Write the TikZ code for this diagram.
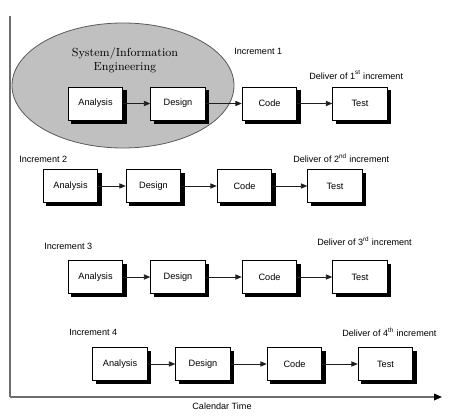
\documentclass[tikz,border=0pt]{standalone}
\usepackage{fontspec}
\setsansfont{Liberation Sans}
\usetikzlibrary{shapes.misc,arrows.meta,backgrounds}

\tikzset{
	stagebox/.style={draw=black,fill=white,line width=0.6pt,minimum width=41pt,minimum height=24.75pt,inner sep=0pt,font=\sffamily\fontsize{6.9}{8}\selectfont},
	flow/.style={-{Triangle[length=4.8pt,width=3.9pt]},line width=0.6pt,color={rgb, 255:red, 30; green, 30; blue, 30 }},
	lbl/.style={anchor=west,inner sep=0.75pt,font=\sffamily\fontsize{6.8}{8}\selectfont}
}

\begin{document}
\begin{tikzpicture}[x=0.75pt,y=0.75pt,yscale=-1,xscale=1]
	\useasboundingbox (0,0) rectangle (449,420);
	
	% Text Node
	\node (sie) [align=center,inner sep=0.75pt,font=\fontsize{8.8}{10.5}\selectfont] at (125,60) {System/Information\\Engineering};
	
	%Straight Lines [id:timeaxis]
	\coordinate (top) at (10,16);
	\coordinate (orig) at (10,397);
	\coordinate (tend) at (442,397);
	\draw [color={rgb, 255:red, 110; green, 110; blue, 110 }, line width=1.2] (top) -- (orig);
	\draw [color={rgb, 255:red, 110; green, 110; blue, 110 }, line width=1.2, -{Triangle[length=6pt,width=5pt,fill=black,color=black]}] (orig) -- (tend);
	% Text Node
	\node (caltime) [inner sep=0.75pt,font=\sffamily\fontsize{6.8}{8}\selectfont] at (222,406) {Calendar Time};
	
	% Increment 1
	\node (an1) [stagebox] at (95.5,103.5) {Analysis};
	\node (de1) [stagebox] at (178,103.5) {Design};
	\node (co1) [stagebox] at (269.5,103.5) {Code};
	\node (te1) [stagebox] at (360,103.5) {Test};
	\draw [flow] (an1) -- (de1);
	\draw [flow] (de1) -- (co1);
	\draw [flow] (co1) -- (te1);
	% Text Node
	\node (inc1) [lbl] at (233,51) {Increment 1};
	% Text Node
	\node (del1) [lbl] at (308,75) {Deliver of 1\textsuperscript{st} increment};
	
	% Increment 2
	\node (an2) [stagebox] at (70.5,186) {Analysis};
	\node (de2) [stagebox] at (153.5,186) {Design};
	\node (co2) [stagebox] at (244.5,186) {Code};
	\node (te2) [stagebox] at (335,186) {Test};
	\draw [flow] (an2) -- (de2);
	\draw [flow] (de2) -- (co2);
	\draw [flow] (co2) -- (te2);
	% Text Node
	\node (inc2) [lbl] at (18,159) {Increment 2};
	% Text Node
	\node (del2) [lbl] at (292,158) {Deliver of 2\textsuperscript{nd} increment};
	
	% Increment 3
	\node (an3) [stagebox] at (95.5,277) {Analysis};
	\node (de3) [stagebox] at (178,277) {Design};
	\node (co3) [stagebox] at (269.5,277) {Code};
	\node (te3) [stagebox] at (360,277) {Test};
	\draw [flow] (an3) -- (de3);
	\draw [flow] (de3) -- (co3);
	\draw [flow] (co3) -- (te3);
	% Text Node
	\node (inc3) [lbl] at (43,246) {Increment 3};
	% Text Node
	\node (del3) [lbl] at (316,241) {Deliver of 3\textsuperscript{rd} increment};
	
	% Increment 4
	\node (an4) [stagebox] at (120,364) {Analysis};
	\node (de4) [stagebox] at (203,364) {Design};
	\node (co4) [stagebox] at (294.5,364) {Code};
	\node (te4) [stagebox] at (385.5,364) {Test};
	\draw [flow] (an4) -- (de4);
	\draw [flow] (de4) -- (co4);
	\draw [flow] (co4) -- (te4);
	% Text Node
	\node (inc4) [lbl] at (68,332) {Increment 4};
	% Text Node
	\node (del4) [lbl] at (341,332) {Deliver of 4\textsuperscript{th} increment};
	
	% ellipse and box shadows behind everything
	\begin{scope}[on background layer]
		%Shape: Ellipse [id:systeminfo]
		\draw [color={rgb, 255:red, 90; green, 90; blue, 90 }, fill={rgb, 255:red, 192; green, 192; blue, 192 }, line width=0.6] (123,85.5) ellipse [x radius=111, y radius=62.5];
		\foreach \b in {an1,de1,co1,te1,an2,de2,co2,te2,an3,de3,co3,te3,an4,de4,co4,te4}
			\fill [black] ([shift={(3.5,3.5)}]\b.north west) rectangle ([shift={(3.5,3.5)}]\b.south east);
	\end{scope}
	
\end{tikzpicture}
\end{document}
